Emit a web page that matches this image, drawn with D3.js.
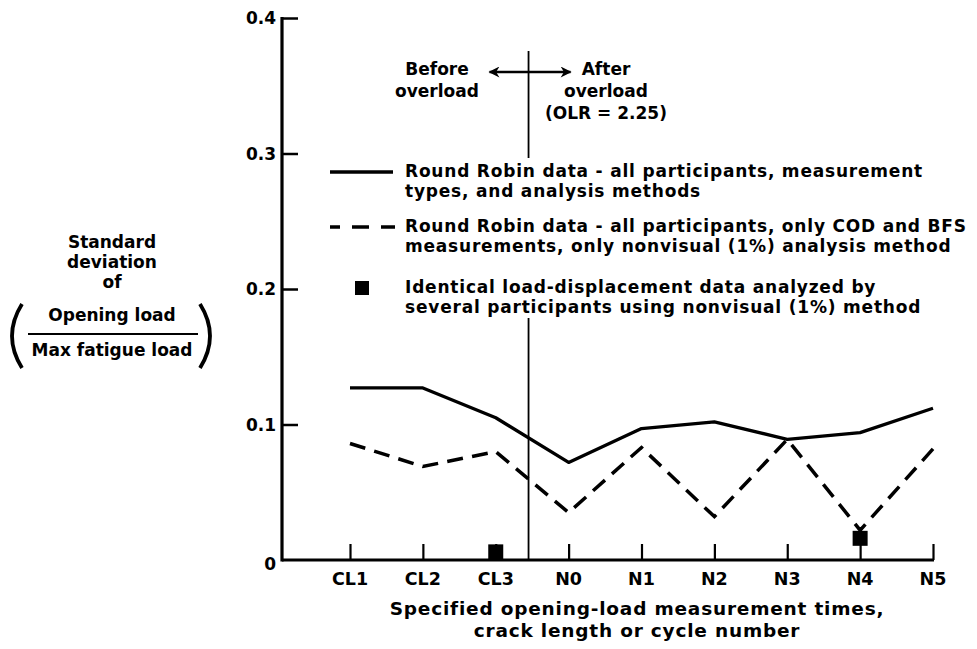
<!DOCTYPE html>
<html>
<head>
<meta charset="utf-8">
<script src="https://cdn.jsdelivr.net/npm/d3@7"></script>
<style>
  body { margin: 0; background: #fff; }
  svg text { font-family: "DejaVu Sans", "Liberation Sans", Arial, sans-serif; font-weight: bold; fill: #000; }
</style>
</head>
<body>
<svg id="chart" width="977" height="649"></svg>
<script>
// Measurement times (crack length before overload, cycle number after)
const categories = ["CL1", "CL2", "CL3", "N0", "N1", "N2", "N3", "N4", "N5"];
// Std. deviation of opening load / max fatigue load
const allMethods = [0.127, 0.127, 0.105, 0.072, 0.097, 0.102, 0.089, 0.094, 0.112];
const codBfsNonvisual = [0.086, 0.069, 0.080, 0.035, 0.083, 0.032, 0.089, 0.022, 0.082];
const identicalCats = ["CL3", "N4"];
const identicalValues = [0.006, 0.016];
const yTicks = [0, 0.1, 0.2, 0.3, 0.4];
const yTickLabels = ["0", "0.1", "0.2", "0.3", "0.4"];
const legendLabels = [
  ["Round Robin data - all participants, measurement", "types, and analysis methods"],
  ["Round Robin data - all participants, only COD and BFS", "measurements, only nonvisual (1%) analysis method"],
  ["Identical load-displacement data analyzed by", "several participants using nonvisual (1%) method"]
];
const beforeLabel = ["Before", "overload"];
const afterLabel = ["After", "overload", "(OLR = 2.25)"];
const xTitle = ["Specified opening-load measurement times,", "crack length or cycle number"];
const yTitleTop = ["Standard", "deviation", "of"];
const yTitleFraction = ["Opening load", "Max fatigue load"];

const svg = d3.select("#chart");
const axisX = 282, x0 = 350, x1 = 933;
const x = d3.scalePoint().domain(categories).range([x0, x1]);
const y = d3.scaleLinear().domain([0, 0.4]).range([560, 18]);
const step = x.step();
const dividerX = x("CL3") + step * 0.45;

// arrow head marker
const defs = svg.append("defs");
defs.append("marker").attr("id", "ah").attr("viewBox", "0 0 10 10")
  .attr("refX", 9).attr("refY", 5).attr("markerWidth", 15).attr("markerHeight", 11)
  .attr("markerUnits", "userSpaceOnUse").attr("orient", "auto-start-reverse")
  .append("path").attr("d", "M0,0 L10,5 L0,10 L3,5 Z").attr("fill", "#000");

// vertical overload divider
svg.append("line").attr("x1", dividerX).attr("x2", dividerX)
  .attr("y1", 51).attr("y2", y(0)).attr("stroke", "#000").attr("stroke-width", 1.8);

// double arrow across the divider
svg.append("line").attr("x1", dividerX - 39).attr("x2", dividerX + 42)
  .attr("y1", 72).attr("y2", 72).attr("stroke", "#000").attr("stroke-width", 2.5)
  .attr("marker-start", "url(#ah)").attr("marker-end", "url(#ah)");

svg.append("g").selectAll("text").data(beforeLabel).join("text")
  .attr("x", 437).attr("y", (d, i) => 75 + i * 22).attr("text-anchor", "middle")
  .attr("font-size", 17).text(d => d);
svg.append("g").selectAll("text").data(afterLabel).join("text")
  .attr("x", 606).attr("y", (d, i) => 75 + i * 22).attr("text-anchor", "middle")
  .attr("font-size", 17).text(d => d);

// Y axis
const yAxis = d3.axisRight(y).tickValues(yTicks.slice(1)).tickSize(16).tickFormat("");
const gy = svg.append("g").attr("transform", `translate(${axisX},0)`).call(yAxis);
gy.select(".domain").remove();
gy.selectAll(".tick line").attr("stroke", "#000").attr("stroke-width", 2.5);
svg.append("line").attr("x1", axisX).attr("x2", axisX).attr("y1", y(0.4) - 1).attr("y2", y(0) + 1.5)
  .attr("stroke", "#000").attr("stroke-width", 3.2);
svg.append("g").selectAll("text").data(yTicks).join("text")
  .attr("x", 276).attr("y", d => y(d) + (d === 0 ? 10 : 6))
  .attr("text-anchor", "end").attr("font-size", 17)
  .text((d, i) => yTickLabels[i]);

// X axis
const xAxis = d3.axisTop(x).tickSize(16).tickFormat("");
const gx = svg.append("g").attr("transform", `translate(0,${y(0)})`).call(xAxis);
gx.select(".domain").remove();
gx.selectAll(".tick line").attr("stroke", "#000").attr("stroke-width", 2.2);
svg.append("line").attr("x1", axisX).attr("x2", x1 + 1).attr("y1", y(0)).attr("y2", y(0))
  .attr("stroke", "#000").attr("stroke-width", 3.2);
svg.append("g").selectAll("text").data(categories).join("text")
  .attr("x", d => x(d)).attr("y", 585).attr("text-anchor", "middle")
  .attr("font-size", 17.5).text(d => d);

svg.append("g").selectAll("text").data(xTitle).join("text")
  .attr("x", 637).attr("y", (d, i) => 615 + i * 22).attr("text-anchor", "middle")
  .attr("font-size", 18.5).attr("letter-spacing", 0.8).text(d => d);

// Y title with bracketed fraction
svg.append("g").selectAll("text").data(yTitleTop).join("text")
  .attr("x", 112).attr("y", (d, i) => 248 + i * 20).attr("text-anchor", "middle")
  .attr("font-size", 17).text(d => d);
svg.append("g").selectAll("text").data(yTitleFraction).join("text")
  .attr("x", 112).attr("y", (d, i) => 321 + i * 35).attr("text-anchor", "middle")
  .attr("font-size", 17).text(d => d);
svg.append("line").attr("x1", 28).attr("x2", 198).attr("y1", 334).attr("y2", 334)
  .attr("stroke", "#000").attr("stroke-width", 2);
svg.append("path").attr("d", "M22,304 Q2,336 22,368").attr("fill", "none")
  .attr("stroke", "#000").attr("stroke-width", 3.8);
svg.append("path").attr("d", "M200,304 Q220,336 200,368").attr("fill", "none")
  .attr("stroke", "#000").attr("stroke-width", 3.8);

// data lines
const line = d3.line().x((d, i) => x(categories[i])).y(d => y(d));
svg.append("path").datum(allMethods).attr("d", line).attr("fill", "none")
  .attr("stroke", "#000").attr("stroke-width", 3.3).attr("stroke-linejoin", "round");
const dashed = svg.append("path").datum(codBfsNonvisual).attr("d", line).attr("fill", "none")
  .attr("stroke", "#000").attr("stroke-width", 3.5);
// fit the dash period so the line starts and ends on a full dash
const dashLen = 16, total = dashed.node().getTotalLength();
const nPeriods = Math.round((total - dashLen) / 25);
const gapLen = (total - dashLen) / nPeriods - dashLen;
dashed.attr("stroke-dasharray", `${dashLen},${gapLen}`);

// identical-data squares
const sq = 15;
svg.append("g").selectAll("rect").data(identicalValues).join("rect")
  .attr("x", (d, i) => x(identicalCats[i]) - sq / 2).attr("y", d => y(d) - sq / 2)
  .attr("width", sq).attr("height", sq).attr("fill", "#000");

// legend (white panel interrupts the divider)
const lg = svg.append("g");
lg.append("rect").attr("x", 322).attr("y", 158).attr("width", 645).attr("height", 160).attr("fill", "#fff");
const rowY = [172, 227, 288];
lg.append("line").attr("x1", 330).attr("x2", 393).attr("y1", rowY[0]).attr("y2", rowY[0])
  .attr("stroke", "#000").attr("stroke-width", 3.3);
lg.append("line").attr("x1", 330).attr("x2", 395).attr("y1", rowY[1]).attr("y2", rowY[1])
  .attr("stroke", "#000").attr("stroke-width", 3.5).attr("stroke-dasharray", "10,12,17,12,17");
lg.append("rect").attr("x", 355).attr("y", rowY[2] - 7).attr("width", 14).attr("height", 14).attr("fill", "#000");
legendLabels.forEach((lines, r) => {
  lg.append("g").selectAll("text").data(lines).join("text")
    .attr("x", 405).attr("y", (d, i) => rowY[r] + 5 + i * 20)
    .attr("font-size", 17).attr("letter-spacing", 0.8).text(d => d);
});
</script>
</body>
</html>
